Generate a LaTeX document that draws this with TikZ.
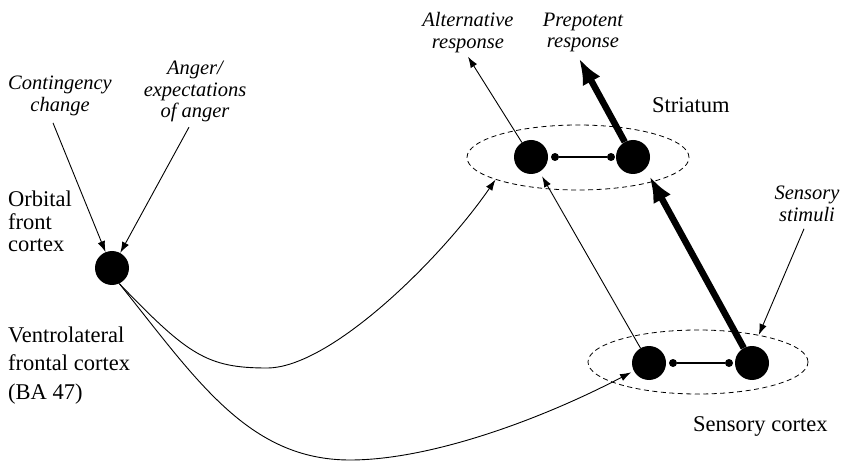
\documentclass[tikz,border=0pt]{standalone}
\usepackage{fontspec}
\setmainfont{Liberation Serif}
\usetikzlibrary{arrows.meta,shapes.geometric}
\begin{document}
\begin{tikzpicture}[x=1pt,y=-1pt,
  neuron/.style={circle,fill=black,inner sep=0pt,minimum size=34pt},
  synapse/.style={circle,fill=black,inner sep=0pt,minimum size=8pt},
  region/.style={ellipse,draw,dash pattern=on 5pt off 3.5pt,line width=0.8pt,inner sep=0pt},
  cue/.style={font=\fontsize{20.5}{21.5}\selectfont\itshape,align=center,inner sep=0pt},
  area/.style={font=\fontsize{22.5}{22.5}\selectfont,align=left,inner sep=0pt},
  weak/.style={line width=0.9pt,-{Latex[length=11pt,width=7.5pt]}},
  strong/.style={line width=6.5pt,-{Latex[length=26pt,width=20pt]}},
  link/.style={line width=1.2pt},
]
\useasboundingbox (0,0) rectangle (846,462);

% brain regions
\node[region,minimum width=222pt,minimum height=65pt] (str) at (578,157.5) {};
\node[region,minimum width=220pt,minimum height=64pt] (sen) at (698,362) {};

% neurons and their synaptic contacts
\node[neuron] (ofc) at (112,268) {};
\node[neuron] (sl) at (531,157) {};
\node[neuron] (sr) at (633,157) {};
\node[synapse] (sld) at (555,157) {};
\node[synapse] (srd) at (611,157) {};
\node[neuron] (cl) at (649,363) {};
\node[neuron] (cr) at (752,363) {};
\node[synapse] (cld) at (673,363) {};
\node[synapse] (crd) at (729,363) {};
\draw[link] (sld) -- (srd);
\draw[link] (cld) -- (crd);

% region names
\node[area,anchor=west] (orb) at (8,221.5) {Orbital\\front\\cortex};
\node[area,anchor=west,font=\fontsize{22.5}{28.5}\selectfont] (vlf) at (8,365.5) {Ventrolateral\\frontal cortex\\(BA 47)};
\node[area,anchor=base west] (strl) at (652,113) {Striatum};
\node[area,anchor=base west] (senl) at (693,431) {Sensory cortex};

% inputs and outputs
\node[cue] (cont) at (60,96) {Contingency\\change};
\node[cue] (ang) at (195,91.5) {Anger/\\expectations\\of anger};
\node[cue] (alt) at (468,32.5) {Alternative\\response};
\node[cue] (pre) at (583,32.5) {Prepotent\\response};
\node[cue] (stim) at (807,204) {Sensory\\stimuli};

% connections
\draw[weak] ([xshift=-7pt,yshift=-7pt]cont.south) -- (ofc);
\draw[weak] ([xshift=-6pt,yshift=-5pt]ang.south) -- (ofc);
\draw[weak] ([xshift=-3pt,yshift=-7pt]stim.south) -- (sen.24);
\draw[weak] (ofc.-65) .. controls (188,355) and (207,368) .. (267,368)
                  .. controls (330,368) and (440,260) .. (str.195);
\draw[weak,shorten >=3pt] (ofc.-65) .. controls (196,379) and (248,460) .. (350,460)
                  .. controls (430,460) and (540,420) .. (cl);
\draw[weak,shorten >=5pt] (cl) -- (sl);
\draw[strong,shorten >=22pt] (cr) -- ([xshift=6pt]sr.center);
\draw[weak] (sl) -- ([yshift=-4pt]alt.south);
\draw[strong] (sr) -- ([xshift=-4pt,yshift=-6pt]pre.south);
\end{tikzpicture}
\end{document}
